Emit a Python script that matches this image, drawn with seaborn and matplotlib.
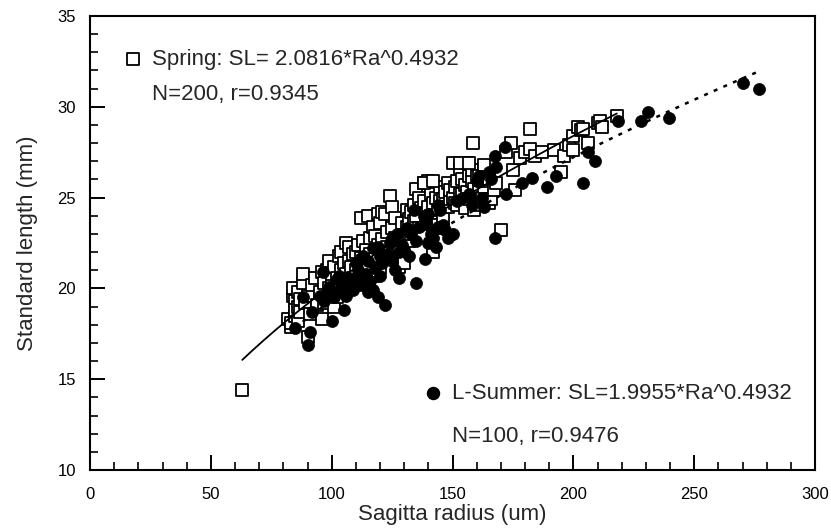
import matplotlib
matplotlib.use("Agg")
import matplotlib.pyplot as plt
import seaborn as sns
import numpy as np
import pandas as pd
from matplotlib.ticker import MultipleLocator

# ---------------- data ----------------
spring_x = [63, 82, 83, 83, 84, 84, 85, 85, 85, 86, 86, 86, 87, 87, 88, 88, 89, 90, 90, 91,
            92, 93, 94, 95, 96, 96, 97, 97, 98, 99, 99, 100, 100, 100, 101, 101, 102, 102, 103, 103,
            104, 104, 105, 105, 106, 106, 107, 107, 108, 108, 109, 109, 110, 110, 111, 111, 112, 112, 113, 113,
            114, 114, 115, 115, 116, 116, 117, 117, 118, 118, 119, 119, 120, 120, 121, 121, 122, 122, 123, 123,
            124, 124, 125, 125, 126, 126, 127, 127, 128, 128, 129, 129, 130, 130, 131, 131, 132, 132, 133, 133,
            134, 134, 135, 135, 136, 136, 137, 137, 138, 138, 139, 139, 140, 140, 141, 141, 142, 142, 143, 143,
            144, 144, 145, 145, 146, 146, 147, 147, 148, 148, 149, 149, 150, 150, 151, 151, 152, 152, 153, 153,
            154, 154, 155, 155, 156, 156, 157, 157, 158, 158, 159, 159, 160, 160, 161, 161, 162, 162, 163, 163,
            164, 165, 165, 166, 167, 168, 170, 172, 174, 175, 176, 178, 180, 182, 182, 184, 187, 192, 195, 196,
            198, 200, 200, 202, 203, 204, 206, 210, 211, 212, 218, 158.5, 153, 157, 138, 142]
spring_y = [14.4, 18.3, 17.9, 18.1, 19.6, 20.0, 19.3, 18.5, 18.8, 19.0, 19.8, 18.2, 18.7, 19.4, 20.3, 20.8, 19.2, 19.6, 17.3, 18.6,
            20.2, 20.6, 19.1, 19.8, 18.3, 20.9, 20.3, 19.2, 21.0, 21.5, 20.0, 20.3, 20.8, 19.4, 19.0, 21.2, 19.5, 20.6, 21.8, 20.1,
            22.0, 21.0, 21.4, 20.2, 22.5, 20.8, 22.3, 21.5, 21.2, 20.0, 21.9, 20.6, 22.0, 21.0, 22.4, 20.3, 23.9, 21.7, 21.5, 22.6,
            20.9, 22.1, 24.0, 21.3, 22.8, 21.9, 23.4, 20.7, 22.9, 21.6, 24.1, 22.4, 23.6, 21.1, 24.2, 22.7, 24.1, 21.9, 22.3, 23.1,
            25.1, 22.0, 24.5, 23.3, 22.8, 23.9, 21.6, 22.5, 21.2, 22.0, 23.6, 22.9, 21.4, 22.8, 24.3, 23.4, 23.8, 22.6, 24.2, 23.0,
            24.6, 23.7, 25.5, 24.0, 25.0, 23.3, 24.4, 22.9, 25.8, 24.8, 24.1, 23.6, 25.9, 24.5, 24.0, 25.2, 22.0, 24.7, 23.3, 25.0,
            23.5, 24.3, 24.8, 25.6, 23.8, 24.9, 24.5, 25.3, 24.5, 25.8, 24.9, 25.4, 26.9, 25.0, 24.7, 25.6, 25.9, 24.6, 26.6, 25.2,
            25.2, 26.0, 24.4, 25.7, 26.9, 25.3, 26.2, 24.9, 25.9, 26.5, 24.3, 25.5, 26.2, 24.6, 26.2, 25.4, 25.0, 26.0, 26.8, 25.6,
            25.9, 26.0, 24.7, 24.9, 25.4, 25.8, 23.2, 27.5, 28.0, 26.5, 25.4, 27.2, 27.5, 28.8, 27.7, 27.3, 27.5, 27.6, 26.4, 27.3,
            27.9, 27.6, 28.4, 28.9, 28.7, 28.8, 28.0, 29.1, 29.2, 28.9, 29.5, 28.0, 26.9, 26.9, 25.8, 25.9]

summer_x = [85, 88, 90, 91, 92, 96.5, 95, 97, 98, 99, 100, 101, 102, 103, 103, 104, 105, 106, 106, 107,
            108, 109, 110, 110, 111, 112, 113, 113, 114, 115, 115, 116, 117, 117, 118, 119, 119, 120, 120, 121,
            122, 123, 124, 125, 125, 126, 127, 128, 128, 129, 130, 131, 132, 133, 134, 135, 135, 136, 138.6, 138,
            139, 140, 140, 141, 142, 143, 144, 144, 145, 146, 147, 148, 150, 152, 154, 157, 158, 160, 161, 162,
            163, 165, 166, 167.5, 167.6, 168, 171.7, 172, 178.7, 183, 189, 193, 204, 206, 209, 218.5, 228, 231, 239.5, 270, 277]
summer_y = [17.8, 19.5, 16.9, 17.6, 18.7, 20.9, 19.6, 19.3, 19.7, 20.1, 18.2, 19.5, 20.5, 19.8, 20.7, 20.0, 18.8, 19.6, 20.2, 20.6,
            20.3, 19.9, 20.6, 21.4, 21.0, 20.2, 21.8, 20.6, 20.8, 21.5, 19.8, 20.4, 22.2, 19.9, 21.1, 19.5, 22.3, 20.7, 21.8, 21.4,
            19.1, 21.9, 22.5, 22.8, 21.5, 21.0, 23.0, 22.0, 20.6, 22.4, 22.1, 23.3, 21.8, 23.0, 24.3, 20.3, 22.6, 23.4, 21.6, 24.0,
            23.6, 24.1, 22.5, 23.0, 22.8, 22.3, 23.4, 24.6, 24.3, 23.5, 23.2, 22.8, 23.0, 24.8, 25.0, 25.2, 24.6, 25.9, 26.2, 25.0,
            24.5, 26.4, 26.0, 27.3, 22.8, 26.7, 27.8, 25.2, 25.8, 26.1, 25.6, 26.2, 25.8, 27.5, 27.0, 29.2, 29.2, 29.7, 29.4, 31.3, 31.0]

# fitted power curves SL = a * Ra^b over the drawn x range
spring_fit = dict(a=2.0816, b=0.4932, xmin=63, xmax=218)
summer_fit = dict(a=1.9955, b=0.4932, xmin=88, xmax=277)

x_ticks = [0, 50, 100, 150, 200, 250, 300]
y_ticks = [10, 15, 20, 25, 30, 35]

spring_label = "Spring: SL= 2.0816*Ra^0.4932"
spring_stats = "N=200, r=0.9345"
summer_label = "L-Summer: SL=1.9955*Ra^0.4932"
summer_stats = "N=100, r=0.9476"

# ---------------- plotting ----------------
sns.set_style("ticks")
plt.rcParams['font.family'] = ['Liberation Sans', 'DejaVu Sans']

W, H = 831, 532
fig = plt.figure(figsize=(W / 100, H / 100), dpi=100)
ax = fig.add_axes([90 / W, (H - 470) / H, 725 / W, 454 / H])

df_s = pd.DataFrame({"x": spring_x, "y": spring_y})
df_u = pd.DataFrame({"x": summer_x, "y": summer_y})

sns.scatterplot(data=df_s, x="x", y="y", ax=ax, marker="s", s=70,
                facecolor="white", edgecolor="black", linewidth=1.3, zorder=2)
sns.scatterplot(data=df_u, x="x", y="y", ax=ax, marker="o", s=75,
                color="black", edgecolor="black", linewidth=0.5, zorder=3)

for fit, ls, lw in [(spring_fit, "-", 1.3), (summer_fit, (0, (1.6, 2.6)), 1.8)]:
    xs = np.linspace(fit["xmin"], fit["xmax"], 200)
    ax.plot(xs, fit["a"] * xs ** fit["b"], color="black", linestyle=ls, lw=lw, zorder=4)

ax.set_xlim(0, 300)
ax.set_ylim(10, 35)
ax.set_xticks(x_ticks)
ax.set_yticks(y_ticks)
ax.xaxis.set_minor_locator(MultipleLocator(10))
ax.yaxis.set_minor_locator(MultipleLocator(1))
ax.tick_params(which="major", direction="in", length=11, width=1.4, labelsize=12,
               top=False, right=False, colors="black")
ax.tick_params(which="minor", direction="in", length=5.5, width=1.4, top=False, right=False)
ax.tick_params(axis="x", which="major", pad=12)
ax.tick_params(axis="y", which="major", pad=10)
for sp in ax.spines.values():
    sp.set_visible(True)
    sp.set_linewidth(1.5)
    sp.set_color("black")

ax.set_xlabel("Sagitta radius (um)", fontsize=16, labelpad=2)
ax.set_ylabel("Standard length (mm)", fontsize=16, labelpad=14)

# annotation "legends"
ax.scatter([17.8], [32.63], marker="s", s=70, facecolor="white", edgecolor="black", linewidth=1.3, zorder=5)
ax.text(25.6, 32.63, spring_label, fontsize=16, va="center", ha="left")
ax.text(25.6, 30.65, spring_stats, fontsize=16, va="center", ha="left")
ax.scatter([141.9], [14.24], marker="o", s=75, color="black", zorder=5)
ax.text(149.8, 14.24, summer_label, fontsize=16, va="center", ha="left")
ax.text(149.8, 11.82, summer_stats, fontsize=16, va="center", ha="left")

fig.savefig("out.png", dpi=100)
